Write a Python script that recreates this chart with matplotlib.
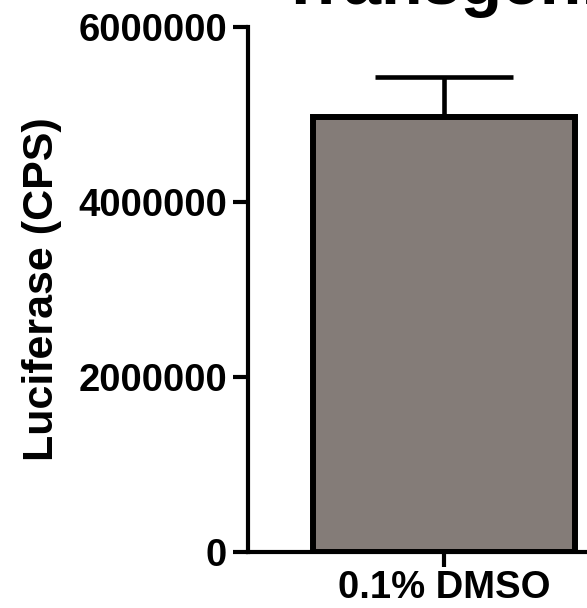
import matplotlib
matplotlib.use('Agg')
import matplotlib.pyplot as plt

# luciferase readout, single treatment group
groups = ['0.1% DMSO']
means = [4970000]
sem = [460000]
yticks = [0, 2000000, 4000000, 6000000]

plt.rcParams['font.family'] = ['Liberation Sans', 'DejaVu Sans']
plt.rcParams['font.weight'] = 'bold'

fig = plt.figure(figsize=(5.87, 6.08), dpi=100)
ax = fig.add_axes([0.4225, 0.0921, 0.6, 0.8635])

ax.bar(range(len(groups)), means, width=0.8, color='#847c78', edgecolor='black',
       linewidth=4.3, zorder=2)
ax.errorbar(range(len(groups)), means, yerr=[[0] * len(sem), sem], fmt='none',
            ecolor='black', elinewidth=3.3, capsize=49.5, capthick=3.3, zorder=1)

ax.set_ylim(0, 6000000)
ax.set_xlim(-0.598, 0.477)
ax.set_yticks(yticks)
ax.set_yticklabels([str(v) for v in yticks])
ax.set_xticks(range(len(groups)))
ax.set_xticklabels(groups)
ax.set_ylabel('Luciferase (CPS)', fontsize=31, fontweight='bold', labelpad=12)

for side in ['top', 'right']:
    ax.spines[side].set_visible(False)
for side in ['left', 'bottom']:
    ax.spines[side].set_linewidth(3)
ax.spines['left'].set_capstyle('projecting')
ax.tick_params(axis='both', length=11, width=3, labelsize=27.5, pad=4)
ax.tick_params(axis='x', pad=2)

fig.text(0.475, 0.993, 'Transgenic', fontsize=49, fontweight='bold', va='baseline', ha='left')

fig.savefig('out.png', dpi=100)
